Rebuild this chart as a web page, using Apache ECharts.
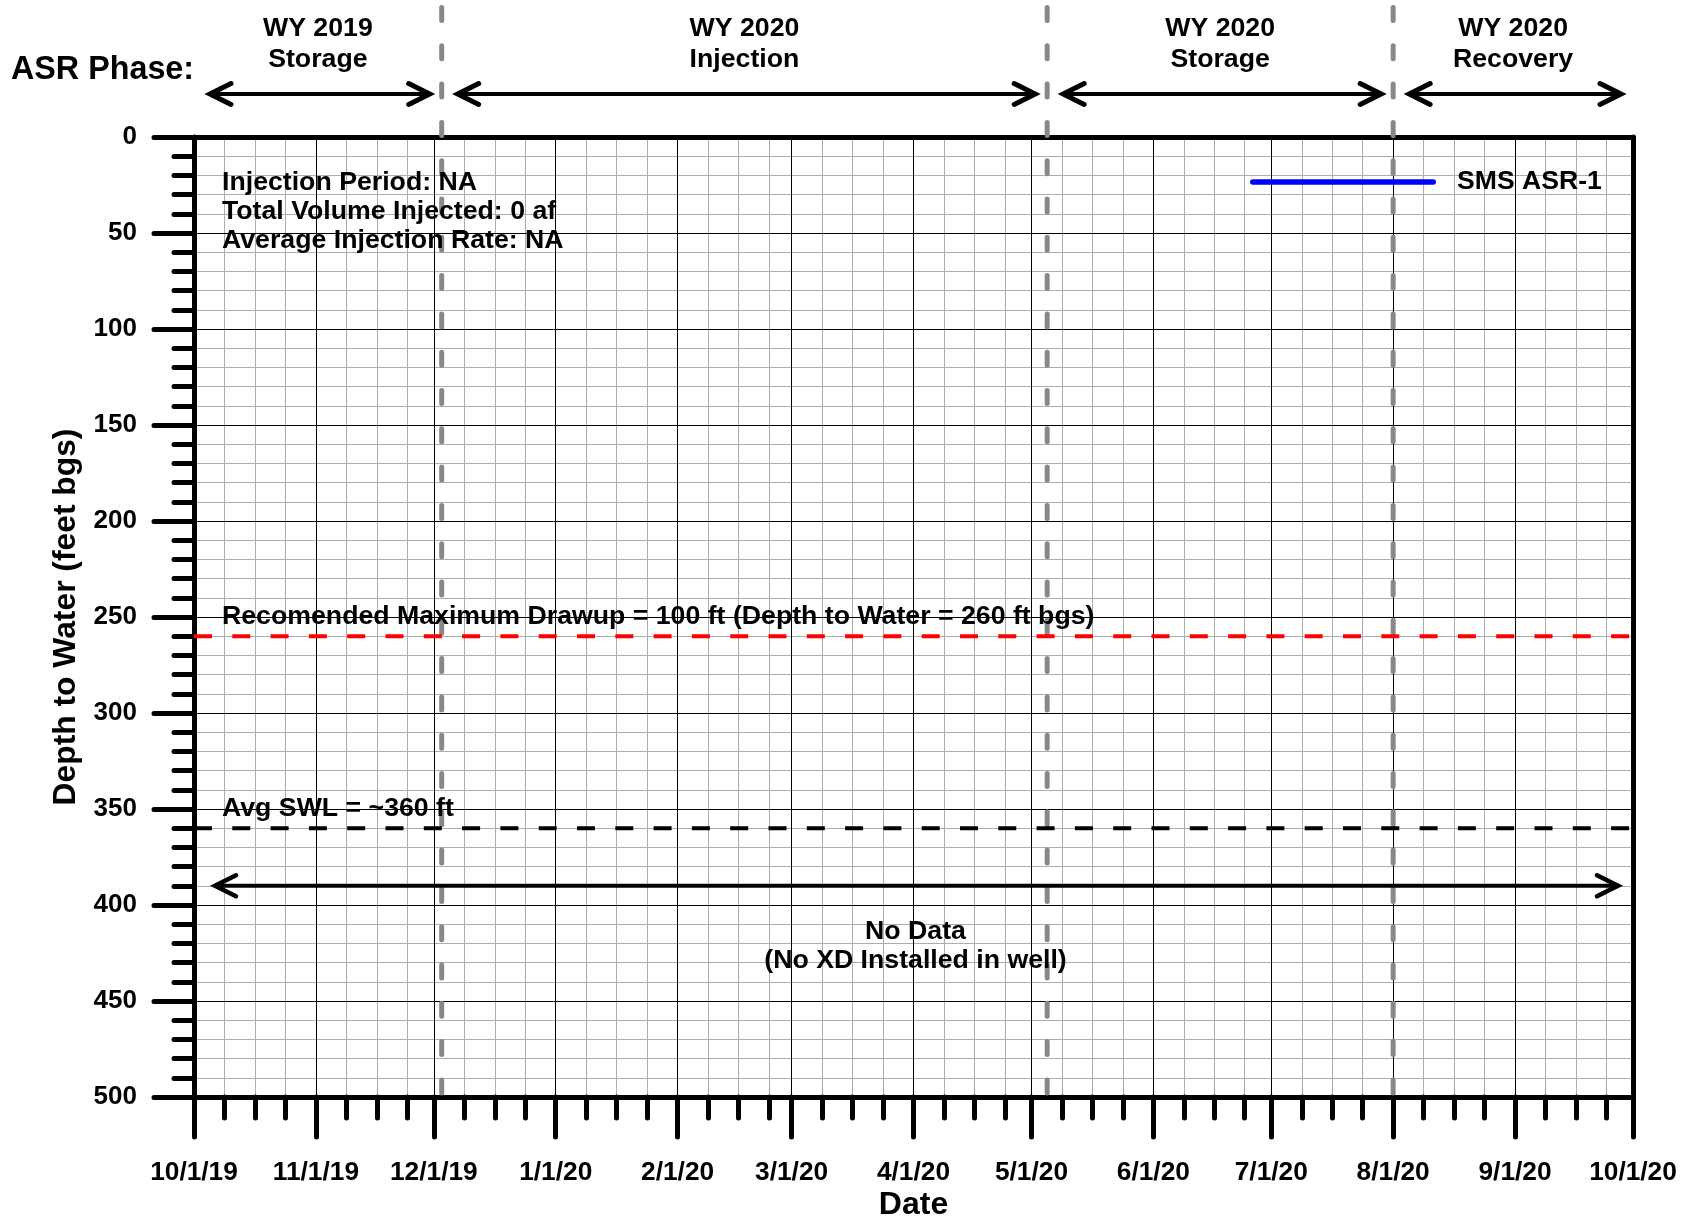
<!DOCTYPE html>
<html>
<head>
<meta charset="utf-8">
<script src="https://cdn.jsdelivr.net/npm/echarts@6/dist/echarts.min.js"></script>
<style>
html,body{margin:0;padding:0;background:#fff;}
#chart{width:1692px;height:1219px;}
</style>
</head>
<body>
<div id="chart"></div>
<script>
// ---------------- DATA ----------------
const xTickLabels = ['10/1/19','11/1/19','12/1/19','1/1/20','2/1/20','3/1/20','4/1/20','5/1/20','6/1/20','7/1/20','8/1/20','9/1/20','10/1/20'];
const yMin = 0, yMax = 500, yInterval = 50, yMinorSplit = 5;
const phaseNames = ['WY 2019\nStorage', 'WY 2020\nInjection', 'WY 2020\nStorage', 'WY 2020\nRecovery'];
const phaseStarts = ['10/1/19', '12/3/19', '5/5/20', '8/1/20'];
const phaseEnds = ['12/3/19', '5/5/20', '8/1/20', '10/1/20'];
const phaseBoundaries = ['12/3/19', '5/5/20', '8/1/20'];
const refLineDepths = [260, 360];
const refLineLabels = ['Recomended Maximum Drawup = 100 ft (Depth to Water = 260 ft bgs)', 'Avg SWL = ~360 ft'];
const refLineColors = ['#ff0000', '#000000'];
const noDataRange = ['10/1/19', '10/1/20'];
const noDataArrowDepth = 390;
const noDataTextDepth = 421.5;
const noDataText = 'No Data\n(No XD Installed in well)';
const statsText = ['Injection Period: NA', 'Total Volume Injected: 0 af', 'Average Injection Rate: NA'];
const seriesName = 'SMS ASR-1';
const smsAsr1Dates = [];   // no data recorded
const smsAsr1Depths = [];

// ---------------- HELPERS ----------------
const FONT = "'Liberation Sans', Arial, Helvetica, sans-serif";
function utcOf(s) { const p = s.split('/').map(Number); return Date.UTC(2000 + p[2], p[0] - 1, p[1]); }
const ORIGIN = utcOf(xTickLabels[0]);
function dayOf(s) { return Math.round((utcOf(s) - ORIGIN) / 864e5); }
const majorDays = xTickLabels.map(dayOf);
const xMin = majorDays[0], xMax = majorDays[majorDays.length - 1];
const minorPerMonth = 4, minorStep = 31 / minorPerMonth;
const minorDays = [];
for (let i = 0; i < majorDays.length - 1; i++) {
  for (let k = 1; k < minorPerMonth; k++) {
    const v = majorDays[i] + k * minorStep;
    if (v < majorDays[i + 1] - 0.5) minorDays.push(v);
  }
}
function labelFor(v) {
  for (let i = 0; i < majorDays.length; i++) if (Math.abs(majorDays[i] - v) < 0.01) return xTickLabels[i];
  return '';
}
function arrowShapes(xa, xb, y, w) {
  const L = 21, H = 10.5, j = 4;  // head length, half height, miter compensation
  const ta = xa + j, tb = xb - j;
  const st = { stroke: '#000', lineWidth: w, fill: null, lineCap: 'round', lineJoin: 'miter' };
  return [
    { type: 'line', shape: { x1: ta, y1: y, x2: tb, y2: y }, style: { stroke: '#000', lineWidth: 4 } },
    { type: 'polyline', shape: { points: [[ta + L, y - H], [ta, y], [ta + L, y + H]] }, style: st },
    { type: 'polyline', shape: { points: [[tb - L, y - H], [tb, y], [tb - L, y + H]] }, style: st }
  ];
}
const TXT = 26.7;
const txt = (size) => ({ fill: '#000', fontSize: size, fontWeight: 'bold', fontFamily: FONT });

const chart = echarts.init(document.getElementById('chart'), null, { renderer: 'canvas' });

const option = {
  backgroundColor: '#ffffff',
  animation: false,
  textStyle: { fontFamily: FONT },
  grid: {
    left: 194, top: 137, width: 1439, height: 960,
    show: true, backgroundColor: '#fff', borderWidth: 0,
    containLabel: false, outerBoundsMode: 'none'
  },
  legend: {
    show: true, selectedMode: false, padding: 0,
    data: [{ name: seriesName, icon: 'path://M2.75,0H183.25A2.75,2.75,0,0,1,183.25,5.5H2.75A2.75,2.75,0,0,1,2.75,0Z', itemStyle: { color: '#0000ff' } }],
    left: 1250, top: 167, itemWidth: 186, itemHeight: 5.5,
    textStyle: { color: '#000', fontSize: 26.6, fontWeight: 'bold', fontFamily: FONT, padding: [0, 0, 0, 16], lineHeight: 30 }
  },
  xAxis: [
    { // minor ticks / minor grid
      type: 'value', min: xMin, max: xMax, position: 'bottom', z: 1,
      axisLine: { show: false, onZero: false },
      axisTick: { show: true, customValues: minorDays, length: 21, lineStyle: { color: '#000', width: 5, cap: 'round' } },
      axisLabel: { show: false },
      splitLine: { show: true, lineStyle: { color: '#adadad', width: 1 } }
    },
    { // major (month) ticks
      type: 'value', min: xMin, max: xMax, position: 'bottom', z: 2,
      axisLine: { show: true, onZero: false, lineStyle: { color: '#000', width: 5 } },
      axisTick: { show: true, customValues: majorDays, length: 40, lineStyle: { color: '#000', width: 5, cap: 'round' } },
      axisLabel: {
        show: true, customValues: majorDays, formatter: labelFor, margin: 63,
        color: '#000', fontSize: 26.3, fontWeight: 'bold', fontFamily: FONT
      },
      splitLine: { show: true, lineStyle: { color: '#000', width: 1 } },
      name: 'Date', nameLocation: 'middle', nameGap: 92, nameMoveOverlap: false,
      nameTextStyle: { color: '#000', fontSize: 32, fontWeight: 'bold', fontFamily: FONT }
    },
    { // top border
      type: 'value', min: xMin, max: xMax, position: 'top', z: 3,
      axisLine: { show: true, onZero: false, lineStyle: { color: '#000', width: 5 } },
      axisTick: { show: false }, axisLabel: { show: false }, splitLine: { show: false }
    }
  ],
  yAxis: [
    {
      type: 'value', min: yMin, max: yMax, interval: yInterval, inverse: true, position: 'left', z: 2,
      axisLine: { show: true, onZero: false, lineStyle: { color: '#000', width: 5 } },
      axisTick: { show: true, length: 40, lineStyle: { color: '#000', width: 5, cap: 'round' } },
      minorTick: { show: true, splitNumber: yMinorSplit, length: 20, lineStyle: { color: '#000', width: 5, cap: 'round' } },
      axisLabel: { show: true, margin: 57, color: '#000', fontSize: 26, fontWeight: 'bold', fontFamily: FONT, padding: [6.5, 0, 0, 0] },
      splitLine: { show: true, lineStyle: { color: '#000', width: 1 } },
      minorSplitLine: { show: true, lineStyle: { color: '#adadad', width: 1 } },
      name: 'Depth to Water (feet bgs)', nameLocation: 'middle', nameGap: 112, nameMoveOverlap: false,
      nameTextStyle: { color: '#000', fontSize: 31.8, fontWeight: 'bold', fontFamily: FONT }
    },
    { // right border
      type: 'value', min: yMin, max: yMax, inverse: true, position: 'right', z: 3,
      axisLine: { show: true, onZero: false, lineStyle: { color: '#000', width: 5 } },
      axisTick: { show: false }, axisLabel: { show: false }, splitLine: { show: false }
    }
  ],
  graphic: [
    { type: 'text', left: 11, top: 54, z: 10, style: Object.assign({ text: 'ASR Phase:', lineHeight: 32 }, txt(32.3)) },
    { type: 'text', left: 222, top: 168, z: 10, style: Object.assign({ text: statsText.join('\n'), lineHeight: 29.2 }, txt(TXT)) }
  ],
  series: [
    {
      name: seriesName, type: 'line', xAxisIndex: 1, yAxisIndex: 0,
      data: smsAsr1Dates.map((d, i) => [dayOf(d), smsAsr1Depths[i]]),
      symbol: 'none', showSymbol: false, itemStyle: { color: '#0000ff' },
      lineStyle: { color: '#0000ff', width: 5 }
    },
    { // phase boundary dashed lines
      type: 'custom', name: 'phaseBoundaries', xAxisIndex: 1, yAxisIndex: 0, clip: false, silent: true, z: 5,
      encode: { x: 0, y: 1 },
      data: phaseBoundaries.map(d => [dayOf(d), yMax]),
      renderItem: function (params, api) {
        const p = api.coord([api.value(0), api.value(1)]);
        return {
          type: 'line', shape: { x1: p[0], y1: 7.5, x2: p[0], y2: p[1] },
          style: { stroke: '#888888', lineWidth: 5, lineDash: [13, 25.3], lineCap: 'round' }
        };
      }
    },
    { // phase arrows + labels
      type: 'custom', name: 'phases', xAxisIndex: 1, yAxisIndex: 0, clip: false, silent: true, z: 6,
      encode: { x: [0, 1], y: 2 },
      data: phaseStarts.map((s, i) => [dayOf(s), dayOf(phaseEnds[i]), yMin, i]),
      renderItem: function (params, api) {
        const xs = api.coord([api.value(0), yMin])[0];
        const xe = api.coord([api.value(1), yMin])[0];
        const xa = xs + 12, xb = xe - 8, y = 94;
        const children = arrowShapes(xa, xb, y, 5);
        children.push({
          type: 'text', x: (xs + xe) / 2, y: 44,
          style: Object.assign({ text: phaseNames[api.value(3)], align: 'center', verticalAlign: 'middle', lineHeight: 30.5 }, txt(TXT))
        });
        return { type: 'group', children: children };
      }
    },
    { // reference lines
      type: 'custom', name: 'refLines', xAxisIndex: 1, yAxisIndex: 0, clip: false, silent: true, z: 7,
      encode: { x: [0, 1], y: 2 },
      data: refLineDepths.map((d, i) => [xMin, xMax, d, i]),
      renderItem: function (params, api) {
        const a = api.coord([api.value(0), api.value(2)]);
        const b = api.coord([api.value(1), api.value(2)]);
        const i = api.value(3);
        return {
          type: 'group', children: [
            { type: 'line', shape: { x1: a[0], y1: a[1], x2: b[0], y2: b[1] },
              style: { stroke: refLineColors[i], lineWidth: 4, lineDash: [18, 20.3] } },
            { type: 'text', x: a[0] + 28, y: a[1] - 20,
              style: Object.assign({ text: refLineLabels[i], align: 'left', verticalAlign: 'middle' }, txt(TXT)) }
          ]
        };
      }
    },
    { // no data arrow and note
      type: 'custom', name: 'noData', xAxisIndex: 1, yAxisIndex: 0, clip: false, silent: true, z: 8,
      encode: { x: [0, 1], y: 2 },
      data: [[dayOf(noDataRange[0]), dayOf(noDataRange[1]), noDataArrowDepth, noDataTextDepth]],
      renderItem: function (params, api) {
        const a = api.coord([api.value(0), api.value(2)]);
        const b = api.coord([api.value(1), api.value(2)]);
        const t = api.coord([(api.value(0) + api.value(1)) / 2, api.value(3)]);
        const children = arrowShapes(a[0] + 17, b[0] - 11, a[1], 4.5);
        children.push({
          type: 'text', x: t[0] + 2, y: t[1],
          style: Object.assign({ text: noDataText, align: 'center', verticalAlign: 'middle', lineHeight: 29 }, txt(TXT))
        });
        return { type: 'group', children: children };
      }
    }
  ]
};
chart.setOption(option);
</script>
</body>
</html>
